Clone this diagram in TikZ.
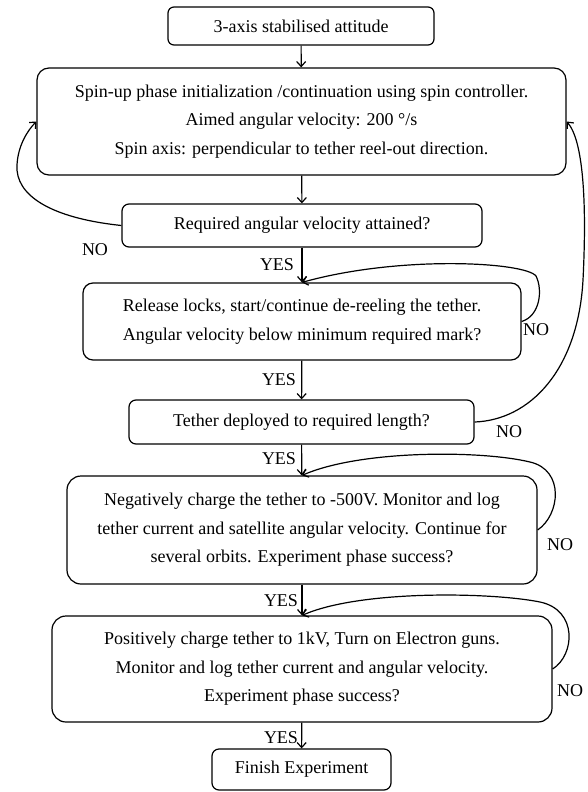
\documentclass[tikz,border=0pt]{standalone}
\usepackage{fontspec}
\setmainfont{Liberation Serif}
\usetikzlibrary{arrows.meta}
\begin{document}
\begin{tikzpicture}[x=1pt,y=-1pt,
  every node/.style={font=\fontsize{18}{28.5}\selectfont},
  box/.style={draw,line width=1.2pt,rounded corners=#1,align=center,inner sep=0pt},
  box/.default=8pt,
  conn/.style={line width=1.2pt,-{Straight Barb[length=5pt,width=9pt,line width=1.2pt]}},
  lbl/.style={inner sep=0pt}]
\useasboundingbox (0,0) rectangle (587,792);
\node[box=6pt,minimum width=266pt,minimum height=38pt] (b1) at (301,26) {3-axis stabilised attitude};
\node[box=12pt,minimum width=529pt,minimum height=107pt] (b2) at (301.5,121.5) {Spin-up phase initialization /continuation using spin controller.\\Aimed angular velocity: 200 °/s\\Spin axis: perpendicular to tether reel-out direction.};
\node[box=7pt,minimum width=360pt,minimum height=43pt] (b3) at (302,225.5) {Required angular velocity attained?};
\node[box=10pt,minimum width=438pt,minimum height=77pt] (b4) at (302,321.5) {Release locks, start/continue de-reeling the tether.\\Angular velocity below minimum required mark?};
\node[box=7pt,minimum width=345pt,minimum height=44pt] (b5) at (301.5,422) {Tether deployed to required length?};
\node[box=14pt,minimum width=470pt,minimum height=108pt] (b6) at (302,530) {Negatively charge the tether to -500V. Monitor and log\\tether current and satellite angular velocity. Continue for\\several orbits. Experiment phase success?};
\node[box=14pt,minimum width=500pt,minimum height=106pt] (b7) at (302,669) {Positively charge tether to 1kV, Turn on Electron guns.\\Monitor and log tether current and angular velocity.\\Experiment phase success?};
\node[box=7pt,minimum width=179pt,minimum height=41pt] (b8) at (301.5,769.5) {Finish Experiment};
% straight connectors
\draw[conn] (b1) -- (b2);
\draw[conn] (b2) -- (b3);
\draw[conn] (b3) -- (b4);
\draw[conn] (b4) -- (b5);
\draw[conn] (b5) -- (b6);
\draw[conn] (b6) -- (b7);
\draw[conn] (b7) -- (b8);
% YES labels
\node[lbl] (y1) at (277,265) {YES};
\node[lbl] (y2) at (279,380) {YES};
\node[lbl] (y3) at (279,459) {YES};
\node[lbl] (y4) at (281,601) {YES};
\node[lbl] (y5) at (281,738) {YES};
% NO loops
\draw[conn] (b3.west) .. controls (50,218) and (15,195) .. (17,165) .. controls (18,145) and (28,130) .. (b2.west);
\node[lbl] (n1) at (95,250) {NO};
\draw[conn] (b4.east) .. controls (540,316) and (543,290) .. (536,276) .. controls (525,262) and (400,255) .. (b4.north);
\node[lbl] (n2) at (536,330) {NO};
\draw[conn] (b5.east) .. controls (530,420) and (578,370) .. (583,280) .. controls (587,200) and (583,140) .. (b2.east);
\node[lbl] (n3) at (509,432) {NO};
\draw[conn] (b6.east) .. controls (560,515) and (565,470) .. (530,462) .. controls (480,450) and (360,450) .. (b6.north);
\node[lbl] (n4) at (560,545) {NO};
\draw[conn] (b7.east) .. controls (575,655) and (578,610) .. (540,602) .. controls (490,592) and (360,590) .. (b7.north);
\node[lbl] (n5) at (570,691) {NO};
\end{tikzpicture}
\end{document}
